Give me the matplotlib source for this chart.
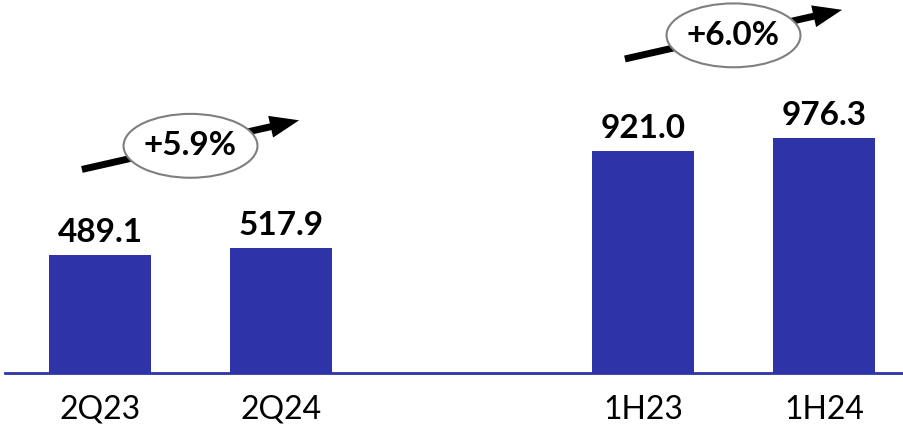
import matplotlib
matplotlib.use("Agg")
import matplotlib.pyplot as plt
from matplotlib.patches import Ellipse, FancyArrowPatch

# data
categories = ["2Q23", "2Q24", "1H23", "1H24"]
values = [489.1, 517.9, 921.0, 976.3]
positions = [0, 1, 3, 4]
groups = [(0, 1), (2, 3)]          # index pairs compared
growth_labels = ["+5.9%", "+6.0%"]

bar_color = "#2E33A8"

plt.rcParams['font.family'] = ['Lato', 'DejaVu Sans']

fig = plt.figure(figsize=(9.04, 4.28), dpi=100)
ax = fig.add_axes([0, 0, 1, 1])
ax.set_xlim(-100 / 181, 804 / 181)
ax.set_ylim(-228, 1548)
ax.axis("off")

ax.bar(positions, values, width=0.565, color=bar_color, zorder=2)
ax.axhline(0, xmin=5 / 904, xmax=1, color=bar_color, lw=2, zorder=3)

# value labels above the bars, category labels below the baseline
for x, v, c in zip(positions, values, categories):
    ax.annotate(f"{v:.1f}", (x, v), xytext=(0, 9.5), textcoords="offset points",
                ha="center", va="baseline", fontsize=24, fontweight="bold", color="black")
    ax.annotate(c, (x, 0), xytext=(0, -26.5), textcoords="offset points",
                ha="center", va="center", fontsize=23, color="black")

# growth callouts: arrow behind an ellipse with the % change
for (i, j), lab in zip(groups, growth_labels):
    cx = (positions[i] + positions[j]) / 2
    cy = max(values[i], values[j]) + 425
    arrow = FancyArrowPatch((cx - 0.6, cy - 98), (cx + 0.6, cy + 106),
                            arrowstyle="simple,tail_width=0.5,head_width=1.6,head_length=2.1",
                            mutation_scale=10, shrinkA=0, shrinkB=0,
                            fc="black", ec="none", zorder=4)
    ax.add_patch(arrow)
    ax.add_patch(Ellipse((cx, cy), 0.74, 265, fc="white", ec="#7F7F7F", lw=1.5, zorder=5))
    ax.text(cx, cy, lab, ha="center", va="center", fontsize=24, fontweight="bold",
            color="black", zorder=6)

fig.savefig("out.png", dpi=100)
